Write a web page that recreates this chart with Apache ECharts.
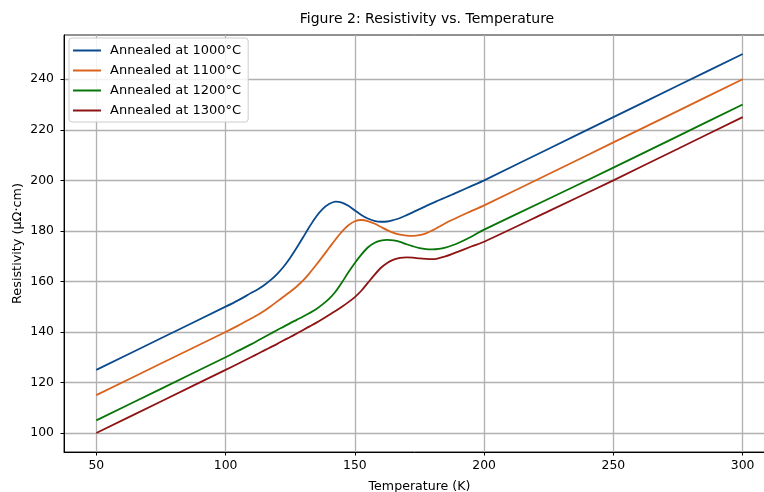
<!DOCTYPE html>
<html>
<head>
<meta charset="utf-8">
<script src="https://cdn.jsdelivr.net/npm/echarts@6/dist/echarts.min.js"></script>
<style>html,body{margin:0;padding:0;background:#fff;}#c{width:764px;height:492px;}</style>
</head>
<body>
<div id="c"></div>
<script>
// Values (temperature K, resistivity µΩ·cm)
const temps = [50,75,100,105,
  110,112.5,115,117.5,120,122.5,125,127.5,130,132.5,135,137.5,140,142.5,145,147.5,150,
  152.5,155,157.5,160,162.5,165,167.5,170,172.5,175,177.5,180,182.5,185,187.5,190,
  195,200,225,250,275,300];
const r1000 = [125,137.5,150,152.6,
  155.5,156.9,158.6,160.6,163.0,165.9,169.4,173.3,177.5,181.7,185.6,188.6,190.6,191.6,191.2,189.9,188.1,
  186.3,184.9,184.0,183.6,183.7,184.3,185.1,186.2,187.4,188.6,189.8,191.0,192.1,193.2,194.3,195.4,
  197.7,200,212.5,225,237.5,250];
const r1100 = [115,127.5,140,142.6,
  145.4,146.8,148.4,150.2,152.1,154.0,155.9,158.0,160.4,163.3,166.5,169.8,173.2,176.6,179.7,182.2,183.8,
  184.3,183.9,182.9,181.6,180.3,179.2,178.5,178.1,178.0,178.3,179.0,180.2,181.6,183.0,184.3,185.5,
  187.8,190.1,202.5,215,227.5,240];
const r1200 = [105,117.5,130,132.6,
  135.2,136.6,138.0,139.4,140.8,142.1,143.5,144.8,146.1,147.5,149.0,150.9,153.1,155.9,159.6,163.6,167.3,
  170.6,173.4,175.2,176.1,176.4,176.2,175.6,174.7,173.9,173.2,172.8,172.7,172.9,173.4,174.2,175.2,
  177.7,180.5,192.7,205,217.5,230];
const r1300 = [100,112.5,125,127.5,
  130.1,131.4,132.7,134.0,135.3,136.7,138.0,139.4,140.8,142.2,143.6,145.1,146.7,148.3,150.0,151.8,153.8,
  156.3,159.4,162.5,165.3,167.3,168.6,169.3,169.5,169.4,169.1,168.9,168.8,169.2,169.9,170.8,171.8,
  173.8,175.7,187.8,200,212.5,225];
const seriesNames = ['Annealed at 1000°C','Annealed at 1100°C','Annealed at 1200°C','Annealed at 1300°C'];
const xTicks = [50,100,150,200,250,300];
const yTicks = [100,120,140,160,180,200,220,240];
const titleText = 'Figure 2: Resistivity vs. Temperature';
const xName = 'Temperature (K)';
const yName = 'Resistivity (μΩ·cm)';

const colors = ['#0a4a8c','#d9621c','#087508','#8e1414'];
const allVals = [r1000, r1100, r1200, r1300];
const FONT = 'DejaVu Sans';
const FS = 12.4;

const chart = echarts.init(document.getElementById('c'), null, {renderer:'canvas'});
const series = allVals.map((vals, i) => ({
  name: seriesNames[i],
  type: 'line',
  data: temps.map((t, k) => [t, vals[k]]),
  smooth: 0.3,
  symbol: 'none',
  showSymbol: false,
  lineStyle: {color: colors[i], width: 1.8},
  itemStyle: {color: colors[i]},
  emphasis: {disabled: true},
  z: 3
}));

chart.setOption({
  animation: false,
  backgroundColor: '#fff',
  textStyle: {fontFamily: FONT},
  graphic: [{
    type: 'text', x: 427, y: 19,
    style: {text: titleText, textAlign: 'center', textVerticalAlign: 'middle',
      fontFamily: FONT, fontSize: 14, fill: '#000'}
  }],
  grid: {left: 64, top: 35, width: 711, height: 417, show: true, outerBoundsMode: 'none',
    borderColor: '#222', borderWidth: 1, backgroundColor: 'transparent'},
  legend: {
    orient: 'vertical', left: 69, top: 38,
    padding: [6, 7, 5, 4],
    icon: 'rect',
    itemWidth: 28, itemHeight: 2, itemGap: 7,
    backgroundColor: 'rgba(255,255,255,0.85)',
    borderColor: '#cccccc', borderWidth: 1, borderRadius: 3,
    textStyle: {fontFamily: FONT, fontSize: 13, lineHeight: 12, color: '#000', padding: [0,0,0,4]},
    data: seriesNames
  },
  xAxis: {
    type: 'value', min: 37.5, max: 312.5,
    name: xName, nameLocation: 'middle', nameGap: 28, nameMoveOverlap: false,
    nameTextStyle: {fontFamily: FONT, fontSize: 12.6, color: '#000'},
    axisLine: {show: true, lineStyle: {color: '#000', width: 1}},
    axisTick: {show: true, customValues: xTicks, length: 3.5, lineStyle: {color: '#000', width: 1}},
    axisLabel: {customValues: xTicks, margin: 8, fontFamily: FONT, fontSize: FS, color: '#000'},
    splitLine: {show: true, lineStyle: {color: '#b0b0b0', width: 1.3}}
  },
  yAxis: {
    type: 'value', min: 92.5, max: 257.5,
    name: yName, nameLocation: 'middle', nameGap: 40, nameRotate: 90, nameMoveOverlap: false,
    nameTextStyle: {fontFamily: FONT, fontSize: 12.8, color: '#000'},
    axisLine: {show: true, lineStyle: {color: '#000', width: 1}},
    axisTick: {show: true, customValues: yTicks, length: 3.5, lineStyle: {color: '#000', width: 1}},
    axisLabel: {customValues: yTicks, margin: 10, fontFamily: FONT, fontSize: FS, color: '#000'},
    splitLine: {show: true, lineStyle: {color: '#b0b0b0', width: 1.3}}
  },
  series: series
});
</script>
</body>
</html>
